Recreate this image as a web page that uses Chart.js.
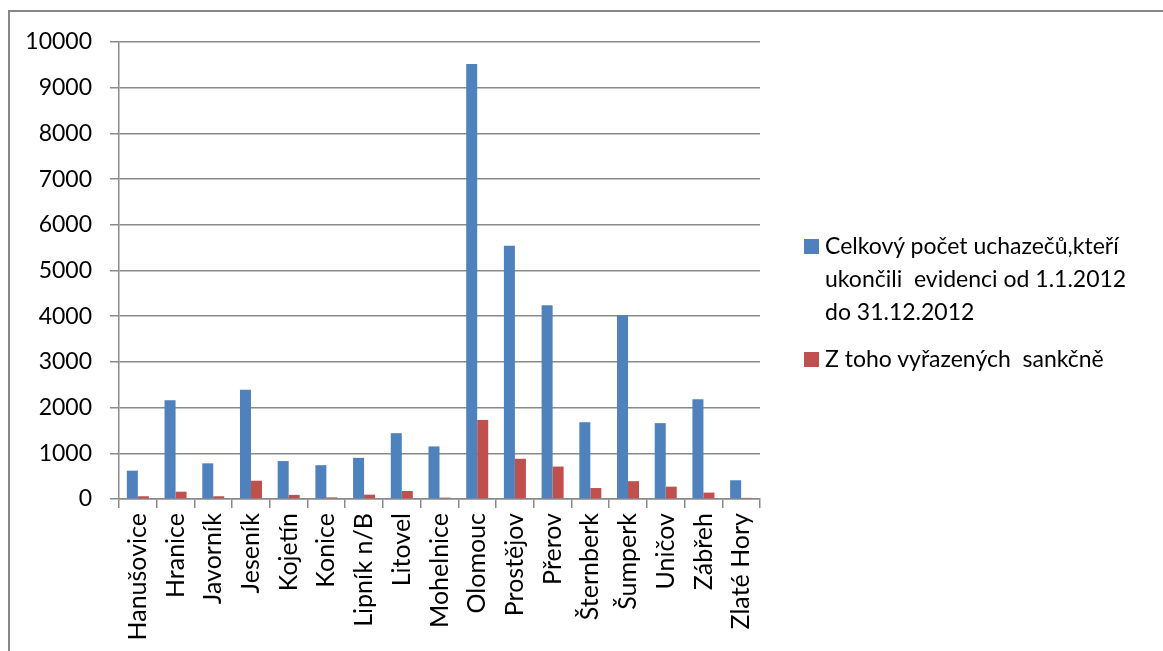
<!DOCTYPE html>
<html lang="cs">
<head>
<meta charset="utf-8">
<title>Uchazeči, kteří ukončili evidenci v roce 2012</title>
<script src="https://cdn.jsdelivr.net/npm/chart.js@4/dist/chart.umd.min.js"></script>
<style>
  html, body { margin: 0; padding: 0; background: #fff; }
  #wrap { position: relative; width: 1163px; height: 651px; overflow: hidden; }
  #frame { position: absolute; left: 8px; top: 10px; width: 1300px; height: 800px;
           border-left: 2px solid #878787; border-top: 2px solid #878787; box-sizing: border-box; }
  #chart { position: absolute; left: 0; top: 0; }
  #legend { position: absolute; left: 0; top: 0; font-family: Lato, "Open Sans", sans-serif;
            font-size: 23px; color: #000; }
  .item { position: absolute; left: 804px; }
  .swatch { position: absolute; left: 0; width: 15px; height: 15px; }
  .text { position: absolute; left: 21px; line-height: 33px; white-space: pre; }
</style>
</head>
<body>
<div id="wrap">
  <div id="frame"></div>
  <canvas id="chart" width="1163" height="651"></canvas>
  <div id="legend"></div>
</div>
<script>
// Úřady práce – počty uchazečů za rok 2012
const categories = ['Hanušovice', 'Hranice', 'Javorník', 'Jeseník', 'Kojetín', 'Konice',
  'Lipník n/B', 'Litovel', 'Mohelnice', 'Olomouc', 'Prostějov', 'Přerov', 'Šternberk',
  'Šumperk', 'Uničov', 'Zábřeh', 'Zlaté Hory'];
const totalEnded = [620, 2160, 780, 2390, 830, 740, 900, 1440, 1150, 9520, 5540, 4240,
  1680, 4020, 1660, 2180, 410];
const sanctioned = [60, 160, 60, 400, 90, 35, 95, 175, 30, 1730, 880, 710, 240, 390,
  270, 140, 25];
const seriesNames = [
  ['Celkový počet uchazečů,kteří', 'ukončili  evidenci od 1.1.2012', 'do 31.12.2012'],
  ['Z toho vyřazených  sankčně']
];
const seriesColors = ['#4F81BD', '#C0504D'];
const yTicks = [0, 1000, 2000, 3000, 4000, 5000, 6000, 7000, 8000, 9000, 10000];

Chart.defaults.font.family = 'Lato, "Open Sans", sans-serif';
Chart.defaults.font.size = 23;
Chart.defaults.color = '#000';

const gridColor = '#8a8a8a';

new Chart(document.getElementById('chart'), {
  type: 'bar',
  data: {
    labels: categories,
    datasets: [
      { label: seriesNames[0].join(' '), data: totalEnded, backgroundColor: seriesColors[0] },
      { label: seriesNames[1].join(' '), data: sanctioned, backgroundColor: seriesColors[1] }
    ]
  },
  options: {
    responsive: false,
    animation: false,
    events: [],
    layout: { padding: { left: 0, right: 403, top: 42, bottom: 0 } },
    datasets: { bar: { categoryPercentage: 0.584, barPercentage: 1.0 } },
    plugins: { legend: { display: false }, tooltip: { enabled: false } },
    scales: {
      x: {
        afterFit: s => { s.height = 152; },
        grid: { drawOnChartArea: false, offset: true, tickLength: 9, color: gridColor, lineWidth: 1.5 },
        border: { color: gridColor, width: 1.5 },
        ticks: { autoSkip: false, maxRotation: 90, minRotation: 90, padding: 5, font: { size: 25 } }
      },
      y: {
        min: yTicks[0],
        max: yTicks[yTicks.length - 1],
        afterFit: s => { s.width = 119; },
        afterBuildTicks: s => { s.ticks = yTicks.map(v => ({ value: v })); },
        grid: { color: gridColor, lineWidth: 1.5, tickLength: 9 },
        border: { color: gridColor, width: 1.5 },
        ticks: { padding: 18, callback: v => String(v) }
      }
    }
  }
});

// Legenda vpravo od grafu
const legendTops = [228.6, 341.6];
const legend = document.getElementById('legend');
seriesNames.forEach((lines, i) => {
  const item = document.createElement('div');
  item.className = 'item';
  item.style.top = legendTops[i] + 'px';
  const sw = document.createElement('div');
  sw.className = 'swatch';
  sw.style.background = seriesColors[i];
  sw.style.top = '10.5px';
  const tx = document.createElement('div');
  tx.className = 'text';
  tx.textContent = lines.join('\n');
  item.appendChild(sw);
  item.appendChild(tx);
  legend.appendChild(item);
});
</script>
</body>
</html>
